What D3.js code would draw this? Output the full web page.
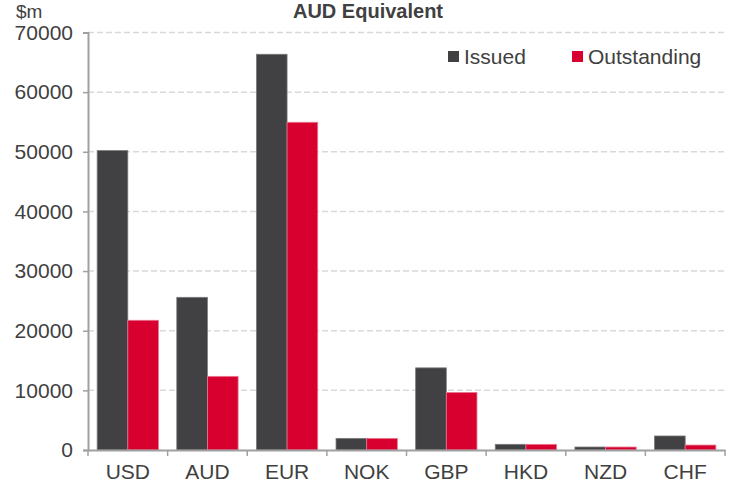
<!DOCTYPE html>
<html>
<head>
<meta charset="utf-8">
<script src="https://cdn.jsdelivr.net/npm/d3@7"></script>
<style>
  body { margin: 0; background: #fff; }
  svg text { font-family: "Liberation Sans", Arial, sans-serif; fill: #404040; }
</style>
</head>
<body>
<svg id="chart"></svg>
<script>
// data
const currencies = ['USD', 'AUD', 'EUR', 'NOK', 'GBP', 'HKD', 'NZD', 'CHF'];
const issued = [50200, 25600, 66350, 1950, 13770, 950, 500, 2350];
const outstanding = [21750, 12350, 54950, 1950, 9650, 950, 500, 830];
const seriesNames = ['Issued', 'Outstanding'];
const seriesColors = ['#414143', '#d7002f'];
const yTicks = [0, 10000, 20000, 30000, 40000, 50000, 60000, 70000];

const W = 731, H = 486;
const margin = { top: 32.5, right: 6, bottom: 36, left: 88 };
const w = W - margin.left - margin.right,
  h = H - margin.top - margin.bottom;

const svg = d3.select('#chart')
  .attr('width', W)
  .attr('height', H);

const g = svg.append('g')
  .attr('transform', 'translate(' + margin.left + ',' + margin.top + ')');

const x0 = d3.scaleBand().domain(currencies).range([0, w])
  .paddingInner(0.23).paddingOuter(0.115);
const x1 = d3.scaleBand().domain(seriesNames).range([0, x0.bandwidth()]);
const y = d3.scaleLinear().domain([0, 70000]).range([h, 0]);

// gridlines
g.append('g').selectAll('line')
  .data(yTicks.filter(d => d > 0))
  .enter().append('line')
  .attr('x1', 0).attr('x2', w)
  .attr('y1', d => y(d)).attr('y2', d => y(d))
  .attr('stroke', '#d9d9d9')
  .attr('stroke-width', 1.5)
  .attr('stroke-dasharray', '6,3');

// bars
const rows = currencies.map((c, i) => ({ cur: c, vals: [issued[i], outstanding[i]] }));
const groups = g.append('g').selectAll('g')
  .data(rows)
  .enter().append('g')
  .attr('transform', d => 'translate(' + x0(d.cur) + ',0)');

groups.selectAll('rect')
  .data(d => d.vals.map((v, k) => ({ name: seriesNames[k], v: v, k: k })))
  .enter().append('rect')
  .attr('x', d => x1(d.name))
  .attr('width', x1.bandwidth())
  .attr('y', d => y(d.v))
  .attr('height', d => h - y(d.v))
  .attr('fill', d => seriesColors[d.k])
  .attr('stroke', d => d.k === 0 ? '#7a7a7c' : '#e8788f')
  .attr('stroke-width', 0.8);

// y axis
const gY = g.append('g')
  .call(d3.axisLeft(y).tickValues(yTicks).tickSize(5).tickPadding(10).tickFormat(d3.format('d')));
gY.select('.domain').attr('stroke', '#a0a0a0').attr('stroke-width', 2);
gY.selectAll('.tick line').attr('stroke', '#a0a0a0').attr('stroke-width', 1.5);
gY.selectAll('.tick text')
  .attr('font-size', 21)
  .style('font-family', '"Liberation Sans", Arial, sans-serif')
  .attr('fill', '#404040');

// x axis
const gX = g.append('g')
  .attr('transform', 'translate(0,' + h + ')')
  .call(d3.axisBottom(x0).tickSize(0).tickPadding(14));
gX.select('.domain').attr('stroke', '#a0a0a0').attr('stroke-width', 2);
gX.selectAll('.tick text')
  .attr('font-size', 21)
  .style('font-family', '"Liberation Sans", Arial, sans-serif')
  .attr('fill', '#404040');

// boundary ticks between categories
const bounds = currencies.map(c => x0(c) - x0.step() * x0.paddingOuter()).concat([w]);
gX.selectAll('.bound')
  .data(bounds)
  .enter().append('line')
  .attr('class', 'bound')
  .attr('x1', d => d).attr('x2', d => d)
  .attr('y1', 0).attr('y2', 6)
  .attr('stroke', '#a0a0a0')
  .attr('stroke-width', 1.5);

// title and unit
svg.append('text')
  .attr('x', 368).attr('y', 18)
  .attr('text-anchor', 'middle')
  .attr('font-size', 20)
  .attr('font-weight', 'bold')
  .text('AUD Equivalent');

svg.append('text')
  .attr('x', 16).attr('y', 18)
  .attr('font-size', 19)
  .text('$m');

// legend
const legendX = [448, 572];
const legend = svg.append('g').selectAll('g')
  .data(seriesNames)
  .enter().append('g')
  .attr('transform', (d, i) => 'translate(' + legendX[i] + ',51)');
legend.append('rect')
  .attr('width', 11).attr('height', 11)
  .attr('fill', (d, i) => seriesColors[i]);
legend.append('text')
  .attr('x', 16).attr('y', 12.5)
  .attr('font-size', 21)
  .text(d => d);
</script>
</body>
</html>
